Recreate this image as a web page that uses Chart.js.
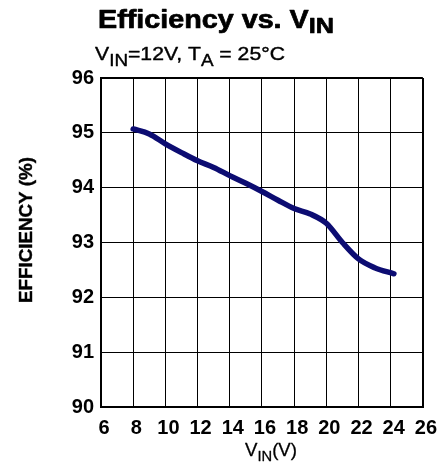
<!DOCTYPE html>
<html>
<head>
<meta charset="utf-8">
<script src="https://cdn.jsdelivr.net/npm/chart.js@4"></script>
<style>
html,body{margin:0;padding:0;background:#fff;}
#wrap{width:443px;height:467px;position:relative;}
</style>
</head>
<body>
<div id="wrap"><canvas id="c" width="443" height="467"></canvas></div>
<script>
// Data
const vin = [8, 9, 10, 11, 12, 13, 14, 15, 16, 17, 18, 19, 20, 21, 22, 23, 24.2];
const efficiency = [95.07, 94.98, 94.8, 94.64, 94.49, 94.37, 94.22, 94.08, 93.93, 93.77, 93.62, 93.52, 93.35, 93.0, 92.7, 92.54, 92.43];
const xTicks = [6, 8, 10, 12, 14, 16, 18, 20, 22, 24, 26];
const yTicks = [90, 91, 92, 93, 94, 95, 96];

const FONT = "'Liberation Sans', Arial, Helvetica, sans-serif";

function drawRich(ctx, segs, x, y, targetWidth, stroke) {
  let total = 0;
  segs.forEach(s => { ctx.font = s.font; s.w = ctx.measureText(s.text).width; total += s.w; });
  const sx = targetWidth / total;
  ctx.save();
  ctx.translate(x, y);
  ctx.scale(sx, 1);
  ctx.fillStyle = '#000';
  ctx.strokeStyle = '#000';
  ctx.lineWidth = stroke || 0;
  ctx.lineJoin = 'round';
  ctx.textBaseline = 'alphabetic';
  ctx.textAlign = 'left';
  let cx = 0;
  segs.forEach(s => {
    ctx.font = s.font;
    ctx.fillText(s.text, cx, s.dy || 0);
    if (stroke) ctx.strokeText(s.text, cx, s.dy || 0);
    cx += s.w;
  });
  ctx.restore();
}

const textPlugin = {
  id: 'texts',
  afterDraw(chart) {
    const ctx = chart.ctx;
    // Title
    drawRich(ctx, [
      {text: 'Efficiency vs. V', font: 'bold 25px ' + FONT},
      {text: 'IN', font: 'bold 22px ' + FONT, dy: 5}
    ], 98, 28, 236, 0.7);
    // Subtitle
    drawRich(ctx, [
      {text: 'V', font: '18px ' + FONT},
      {text: 'IN', font: '16px ' + FONT, dy: 6},
      {text: '=12V, T', font: '18px ' + FONT},
      {text: 'A', font: '16px ' + FONT, dy: 6},
      {text: ' = 25°C', font: '18px ' + FONT}
    ], 95, 60, 190, 0.4);
    // X axis title
    drawRich(ctx, [
      {text: 'V', font: '19px ' + FONT},
      {text: 'IN', font: '15px ' + FONT, dy: 5},
      {text: '(V)', font: '19px ' + FONT}
    ], 245, 456, 52, 0.3);
    // Y axis title
    ctx.save();
    ctx.translate(27, 230);
    ctx.rotate(-Math.PI / 2);
    ctx.font = 'bold 19px ' + FONT;
    const w = ctx.measureText('EFFICIENCY (%)').width;
    ctx.scale(146 / w, 1);
    ctx.fillStyle = '#000';
    ctx.strokeStyle = '#000';
    ctx.lineWidth = 0.4;
    ctx.textAlign = 'center';
    ctx.textBaseline = 'middle';
    ctx.fillText('EFFICIENCY (%)', 0, 0);
    ctx.strokeText('EFFICIENCY (%)', 0, 0);
    ctx.restore();
  }
};

const points = vin.map((v, i) => ({x: v, y: efficiency[i]}));

new Chart(document.getElementById('c'), {
  type: 'line',
  data: {
    datasets: [{
      data: points,
      borderColor: '#0c0c72',
      borderWidth: 5.5,
      pointRadius: 0,
      cubicInterpolationMode: 'monotone',
      borderCapStyle: 'round',
      borderJoinStyle: 'round',
      fill: false
    }]
  },
  options: {
    responsive: false,
    animation: false,
    devicePixelRatio: 1,
    layout: {padding: {top: 78, right: 9, left: 0, bottom: 0}},
    plugins: {legend: {display: false}, tooltip: {enabled: false}, title: {display: false}},
    scales: {
      x: {
        type: 'linear',
        min: 6, max: 26,
        afterBuildTicks(scale) { scale.ticks = xTicks.map(v => ({value: v})); },
        afterFit(scale) { scale.height = 60; },
        grid: {
          color: '#000',
          lineWidth: c => (c.index === 0 || c.index === xTicks.length - 1) ? 2 : 1,
          drawTicks: false
        },
        border: {display: true, color: '#000', width: 2},
        ticks: {color: '#000', font: {family: FONT, size: 20, weight: 'bold'}, padding: 9, maxRotation: 0, autoSkip: false,
                labelOffset: 3}
      },
      y: {
        type: 'linear',
        min: 90, max: 96,
        afterBuildTicks(scale) { scale.ticks = yTicks.map(v => ({value: v})); },
        afterFit(scale) { scale.width = 101; },
        grid: {
          color: '#000',
          lineWidth: c => (c.index === 0 || c.index === yTicks.length - 1) ? 2 : 1,
          drawTicks: false
        },
        border: {display: true, color: '#000', width: 2},
        ticks: {color: '#000', font: {family: FONT, size: 20, weight: 'bold'}, padding: 7, autoSkip: false}
      }
    }
  },
  plugins: [textPlugin]
});
</script>
</body>
</html>
